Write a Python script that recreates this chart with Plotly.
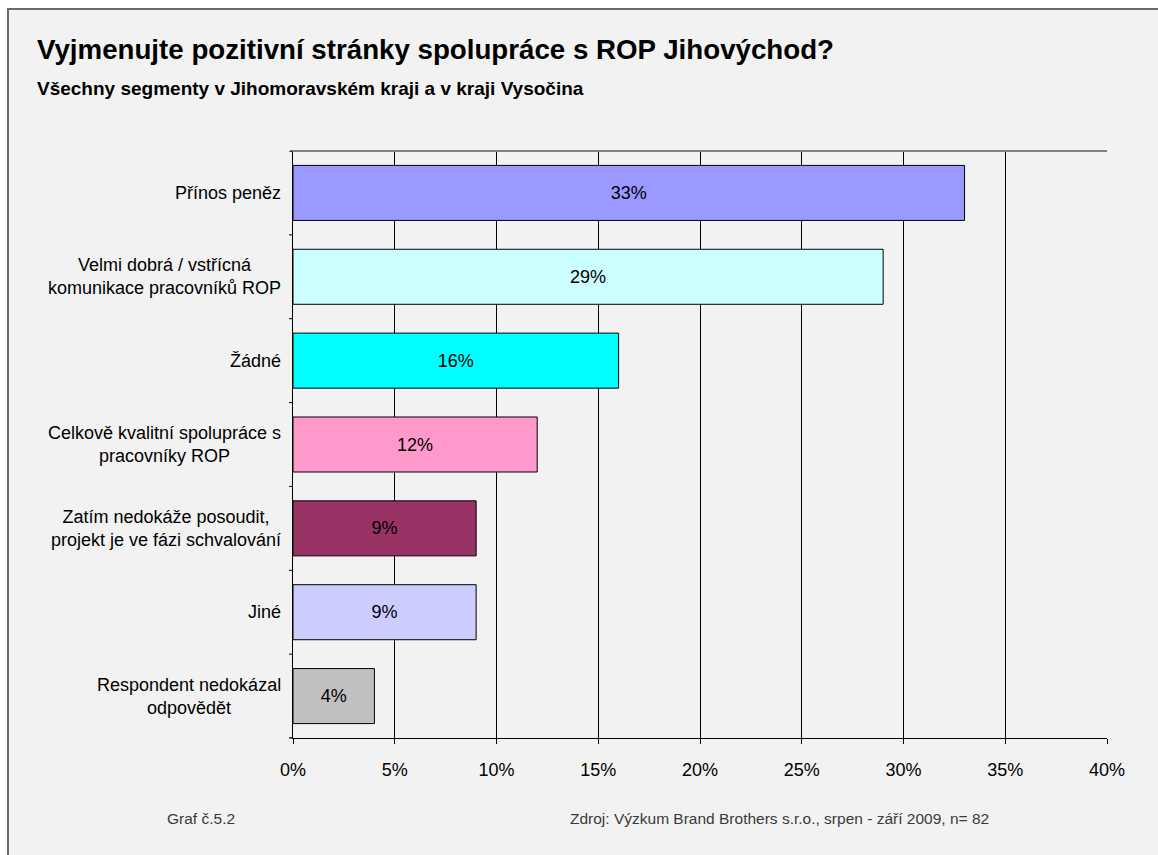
import plotly.graph_objects as go

# Survey answers (share of respondents, %), listed top to bottom
categories = [
    "Přínos peněz",
    "Velmi dobrá / vstřícná<br>komunikace pracovníků ROP",
    "Žádné",
    "Celkově kvalitní spolupráce s<br>pracovníky ROP",
    "Zatím nedokáže posoudit,<br>projekt je ve fázi schvalování",
    "Jiné",
    "Respondent nedokázal<br>odpovědět",
]
values = [33, 29, 16, 12, 9, 9, 4]
bar_colors = ["#9999ff", "#ccffff", "#00ffff", "#ff99cc", "#993366", "#ccccff", "#c0c0c0"]
x_ticks = [0, 5, 10, 15, 20, 25, 30, 35, 40]

FONT = "Arial, Liberation Sans, sans-serif"
W, H = 1158, 855
L, R, T, B = 293, 1107, 151, 738  # plot area in pixels


def px_x(p):
    return (p - L) / (R - L)


def px_y(p):
    return (B - p) / (B - T)


fig = go.Figure(
    go.Bar(
        x=values,
        y=list(range(len(categories))),
        orientation="h",
        width=0.656,
        marker=dict(color=bar_colors, line=dict(color="#000000", width=1)),
        text=[f"{v}%" for v in values],
        textposition="inside",
        insidetextanchor="middle",
        textangle=0,
        textfont=dict(family=FONT, size=18, color="#000000"),
        hoverinfo="skip",
    )
)

annotations = []
# category labels, right-aligned block with centred lines
for i, c in enumerate(categories):
    annotations.append(dict(
        x=px_x(283), y=i, xref="paper", yref="y",
        text=c, showarrow=False, xanchor="right", yanchor="middle", align="center",
        font=dict(family=FONT, size=18, color="#000000"),
    ))

annotations += [
    dict(x=px_x(35), y=px_y(50), xref="paper", yref="paper", xanchor="left", yanchor="middle",
         text="<b>Vyjmenujte pozitivní stránky spolupráce s ROP Jihovýchod?</b>", showarrow=False,
         font=dict(family=FONT, size=27.7, color="#000000")),
    dict(x=px_x(35), y=px_y(89), xref="paper", yref="paper", xanchor="left", yanchor="middle",
         text="<b>Všechny segmenty v Jihomoravském kraji a v kraji Vysočina</b>", showarrow=False,
         font=dict(family=FONT, size=19, color="#000000")),
    dict(x=px_x(165), y=px_y(818), xref="paper", yref="paper", xanchor="left", yanchor="middle",
         text="Graf č.5.2", showarrow=False,
         font=dict(family=FONT, size=15.5, color="#3a3a3a")),
    dict(x=px_x(568), y=px_y(818), xref="paper", yref="paper", xanchor="left", yanchor="middle",
         text="Zdroj: Výzkum Brand Brothers s.r.o., srpen - září 2009, n= 82", showarrow=False,
         font=dict(family=FONT, size=15.5, color="#3a3a3a")),
]

shapes = [
    # chart frame
    dict(type="rect", xref="paper", yref="paper", layer="below",
         x0=px_x(8), x1=px_x(1300), y0=px_y(9), y1=px_y(1000),
         fillcolor="#f2f2f2", line=dict(color="#6b6b6b", width=2)),
    # top border of plot area
    dict(type="line", xref="paper", yref="paper", x0=px_x(290), x1=1, y0=1, y1=1,
         line=dict(color="#808080", width=2)),
    # value axis line extended slightly to the left
    dict(type="line", xref="paper", yref="paper", x0=px_x(289), x1=0, y0=0, y1=0,
         line=dict(color="#000000", width=1)),
]

fig.update_layout(
    width=W, height=H,
    margin=dict(l=L, r=W - R, t=T, b=H - B, pad=0),
    paper_bgcolor="#ffffff",
    plot_bgcolor="#f2f2f2",
    showlegend=False,
    annotations=annotations,
    shapes=shapes,
    xaxis=dict(
        range=[0, 40], tickvals=x_ticks, ticktext=[f"{t}%" for t in x_ticks],
        showgrid=True, gridcolor="#000000", gridwidth=1,
        showline=True, linecolor="#000000", linewidth=1,
        ticks="outside", ticklen=5, tickcolor="#000000",
        ticklabelstandoff=10,
        tickfont=dict(family=FONT, size=18, color="#000000"),
        zeroline=False, fixedrange=True,
    ),
    yaxis=dict(
        range=[len(categories) - 0.5, -0.5],
        tickvals=list(range(len(categories))), showticklabels=False,
        showline=True, linecolor="#000000", linewidth=1,
        showgrid=False, zeroline=False, fixedrange=True,
    ),
)

# short tick marks at the category boundaries on the value axis
for k in range(len(categories) + 1):
    fig.add_shape(type="line", xref="paper", yref="y", x0=px_x(289), x1=0,
                  y0=k - 0.5, y1=k - 0.5, line=dict(color="#000000", width=1))

fig.write_html("out.html")
